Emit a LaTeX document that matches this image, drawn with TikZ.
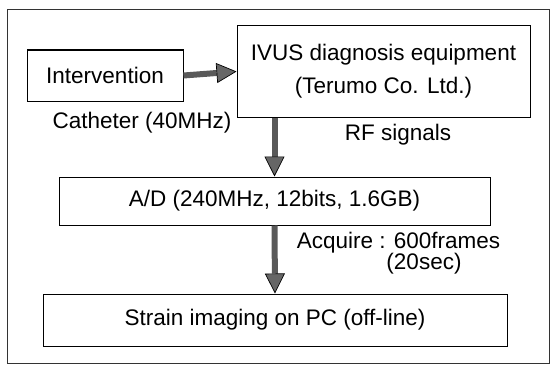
\documentclass[tikz,border=0pt]{standalone}
\usepackage{fontspec}
\setmainfont{Liberation Sans}
\usetikzlibrary{arrows.meta}
\begin{document}
\begin{tikzpicture}[x=1pt,y=1pt,yscale=-1,xscale=1,
  every node/.style={font=\fontsize{22.5}{33}\selectfont},
  blockbox/.style={draw,line width=1pt,rectangle,inner sep=0pt,align=center},
  fatarrow/.style={line width=6pt,black!65,-{Triangle[length=20pt,width=20pt,line width=0.7pt,color=black,fill=black!60]}}]
\useasboundingbox (0,0) rectangle (553,369);

%Shape: Frame
\draw [line width=0.8pt,black!80] (7,9) rectangle (549,363);

% Blocks
\node [blockbox,minimum width=156pt,minimum height=51pt] (inter) at (105,75.5) {Intervention};
\node [blockbox,minimum width=293pt,minimum height=91pt] (ivus) at (383.5,71.5) {IVUS diagnosis equipment\\(Terumo Co. Ltd.)};
\node [blockbox,minimum width=431pt,minimum height=48pt] (adconv) at (274.5,201) {A/D (240MHz, 12bits, 1.6GB)};
\node [blockbox,minimum width=464pt,minimum height=52pt] (strain) at (275,320) {Strain imaging on PC (off-line)};

% Text Node
\node (cath) at (142,123) {Catheter (40MHz)};
% Text Node
\node (rfsig) at (398,135) {RF signals};
% Text Node
\node (acq) at (398.5,243) {Acquire : 600frames};
% Text Node
\node (acqsec) at (424,264) {(20sec)};

% Arrows
\draw [fatarrow] (inter.east) -- (ivus.west);
\draw [fatarrow] (adconv.north |- ivus.south) -- (adconv.north);
\draw [fatarrow] (adconv.south) -- (strain.north);

\end{tikzpicture}
\end{document}
